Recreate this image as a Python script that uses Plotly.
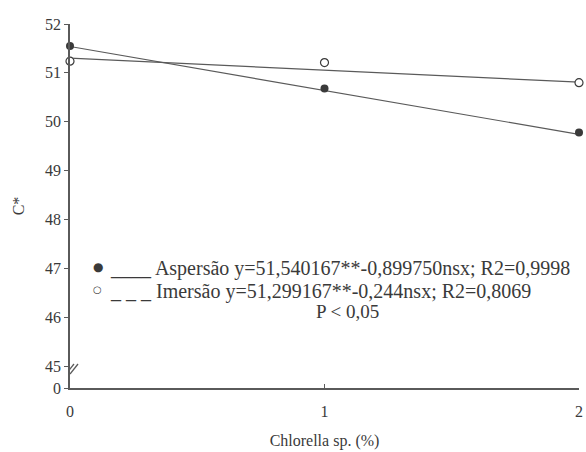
import plotly.graph_objects as go

# Data
x_levels = [0, 1, 2]
aspersao = [51.55, 50.68, 49.78]
imersao = [51.24, 51.21, 50.80]
fit_x = [0, 2]
fit_aspersao = [51.54, 49.74]
fit_imersao = [51.30, 50.81]

y_tick_vals = [44.55, 45, 46, 47, 48, 49, 50, 51, 52]
y_tick_text = ["0", "45", "46", "47", "48", "49", "50", "51", "52"]
x_tick_vals = [0, 1, 2]
x_tick_text = ["0", "1", "2"]

legend_aspersao = "Aspersão y=51,540167**-0,899750nsx; R2=0,9998"
legend_imersao = "Imersão y=51,299167**-0,244nsx; R2=0,8069"
p_text = "P < 0,05"

SERIF = "Times New Roman, Liberation Serif, serif"
LINE = "#5a5a5a"
INK = "#3a3a3a"

fig = go.Figure()
fig.add_trace(go.Scatter(x=fit_x, y=fit_aspersao, mode="lines",
                         line=dict(color=LINE, width=1.2), showlegend=False,
                         cliponaxis=False))
fig.add_trace(go.Scatter(x=fit_x, y=fit_imersao, mode="lines",
                         line=dict(color=LINE, width=1.2), showlegend=False,
                         cliponaxis=False))
fig.add_trace(go.Scatter(x=x_levels, y=aspersao, mode="markers",
                         marker=dict(color=INK, size=8, line=dict(width=0)),
                         showlegend=False, cliponaxis=False))
fig.add_trace(go.Scatter(x=x_levels, y=imersao, mode="markers",
                         marker=dict(color="white", size=8,
                                     line=dict(color=INK, width=1.2)),
                         showlegend=False, cliponaxis=False))

fig.update_layout(
    width=586, height=452,
    margin=dict(l=70, r=3, t=24, b=64),
    paper_bgcolor="white", plot_bgcolor="white",
    font=dict(family=SERIF, color=INK, size=16),
    showlegend=False,
    xaxis=dict(range=[0, 2], tickvals=x_tick_vals, ticktext=x_tick_text,
               showgrid=False, zeroline=False, showline=True,
               linecolor=LINE, linewidth=1.5, ticks="inside", ticklen=4,
               tickcolor=LINE, tickfont=dict(size=16, family=SERIF, color=INK),
               ticklabelstandoff=8, ticklabeloverflow="allow",
               title=dict(text="Chlorella sp. (%)", standoff=16,
                          font=dict(size=16, family=SERIF, color=INK))),
    yaxis=dict(range=[44.55, 52], tickvals=y_tick_vals, ticktext=y_tick_text,
               showgrid=False, zeroline=False, showline=True,
               linecolor=LINE, linewidth=1.5, ticks="outside", ticklen=4,
               tickcolor=LINE, tickfont=dict(size=16, family=SERIF, color=INK),
               title=dict(text="C*", standoff=16,
                          font=dict(size=16, family=SERIF, color=INK))),
)

# axis break marks
for dx in (0, 4):
    fig.add_shape(type="line", xref="x", yref="y",
                  xsizemode="pixel", ysizemode="pixel",
                  xanchor=0, yanchor=44.55,
                  x0=-4 + dx, y0=14, x1=4 + dx, y1=24,
                  line=dict(color=LINE, width=1.3))

# legend-like annotations
fig.add_annotation(xref="paper", yref="paper", x=(98 - 70) / 513, y=(388 - 267) / 364,
                   text="●", showarrow=False, xanchor="center", yanchor="middle",
                   font=dict(size=12, family="DejaVu Sans", color=INK))
fig.add_annotation(xref="paper", yref="paper", x=(108 - 70) / 513, y=(388 - 268) / 364,
                   text="____ " + legend_aspersao, showarrow=False,
                   xanchor="left", yanchor="middle",
                   font=dict(size=20, family=SERIF, color=INK))
fig.add_annotation(xref="paper", yref="paper", x=(98 - 70) / 513, y=(388 - 289) / 364,
                   text="○", showarrow=False, xanchor="center", yanchor="middle",
                   font=dict(size=10, family="DejaVu Sans", color=INK))
fig.add_annotation(xref="paper", yref="paper", x=(108 - 70) / 513, y=(388 - 291) / 364,
                   text="_ _ _ " + legend_imersao, showarrow=False,
                   xanchor="left", yanchor="middle",
                   font=dict(size=20, family=SERIF, color=INK))
fig.add_annotation(xref="paper", yref="paper", x=(350 - 70) / 513, y=(388 - 311) / 364,
                   text=p_text, showarrow=False,
                   xanchor="center", yanchor="middle",
                   font=dict(size=19, family=SERIF, color=INK))

fig.write_html("out.html", config={"displayModeBar": False},
               post_script="document.body.style.margin='0';")
